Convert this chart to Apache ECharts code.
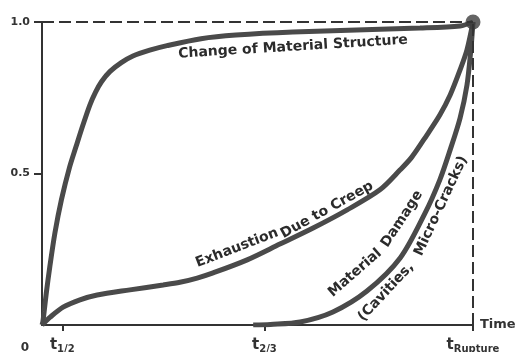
<!DOCTYPE html>
<html>
<head>
<meta charset="utf-8">
<title>Creep damage over time</title>
<script src="https://cdn.jsdelivr.net/npm/echarts@6/dist/echarts.min.js"></script>
<style>
    html, body { margin: 0; padding: 0; background: #fff; }
    #chart { width: 521px; height: 352px; }
</style>
</head>
<body>
<div id="chart"></div>
<script>
    // time is normalised: 0 .. tRupture = 1
    var xTickValues = [0.047, 0.516, 1];
    var xTickSubs = ['1/2', '2/3', 'Rupture'];
    var yTickValues = [0.5, 1.0];

    var structureCurve = [
        [0, 0], [0.002, 0.010], [0.005, 0.045], [0.010, 0.106], [0.018, 0.191],
        [0.030, 0.304], [0.045, 0.413], [0.064, 0.521], [0.079, 0.589], [0.095, 0.660],
        [0.111, 0.726], [0.124, 0.768], [0.138, 0.803], [0.158, 0.837], [0.184, 0.866],
        [0.211, 0.888], [0.250, 0.907], [0.290, 0.922], [0.369, 0.945], [0.450, 0.957],
        [0.582, 0.967], [0.877, 0.980], [0.970, 0.987], [1, 1]
    ];

    var exhaustionCurve = [
        [0, 0], [0.019, 0.026], [0.049, 0.059], [0.088, 0.083], [0.128, 0.099],
        [0.204, 0.116], [0.281, 0.132], [0.320, 0.141], [0.360, 0.155], [0.397, 0.172],
        [0.476, 0.215], [0.552, 0.267], [0.629, 0.320], [0.708, 0.380], [0.784, 0.446],
        [0.831, 0.512], [0.858, 0.554], [0.893, 0.627], [0.923, 0.693], [0.947, 0.759],
        [0.970, 0.842], [0.986, 0.908], [1, 1]
    ];

    var damageCurve = [
        [0.49, 0], [0.530, 0.002], [0.599, 0.010], [0.675, 0.043], [0.754, 0.112],
        [0.831, 0.221], [0.889, 0.370], [0.923, 0.479], [0.947, 0.578], [0.970, 0.683],
        [0.986, 0.792], [0.995, 0.908], [1, 1]
    ];

    var rupturePoint = [[1, 1]];

    var ink = '#333';
    var curveColor = '#4a4a4a';
    var labelFont = 'bold 14px "DejaVu Sans", sans-serif';

    function curveLabel(text, x, y, deg) {
        return {
            type: 'text',
            x: x,
            y: y,
            rotation: deg * Math.PI / 180,
            silent: true,
            style: {
                text: text,
                font: labelFont,
                fill: '#2b2b2b',
                align: 'center',
                verticalAlign: 'middle'
            }
        };
    }

    function curveSeries(name, data) {
        return {
            name: name,
            type: 'line',
            data: data,
            smooth: 0.3,
            symbol: 'none',
            silent: true,
            lineStyle: { color: curveColor, width: 5 },
            z: 3
        };
    }

    var chart = echarts.init(document.getElementById('chart'));

    var structure = curveSeries('Change of Material Structure', structureCurve);
    structure.markLine = {
        symbol: 'none',
        silent: true,
        label: { show: false },
        lineStyle: { color: ink, width: 2, type: [12, 5] },
        data: [{ yAxis: 1 }, { xAxis: 1 }]
    };

    chart.setOption({
        backgroundColor: '#fff',
        animation: false,
        grid: {
            left: 42,
            right: 48,
            top: 22,
            bottom: 27,
            containLabel: false,
            outerBoundsMode: 'none'
        },
        xAxis: {
            type: 'value',
            min: 0,
            max: 1,
            name: 'Time',
            nameLocation: 'end',
            nameGap: 7,
            nameTextStyle: {
                color: ink,
                fontSize: 13,
                fontWeight: 'bold',
                fontFamily: 'DejaVu Sans'
            },
            axisLine: { lineStyle: { color: ink, width: 2 } },
            axisTick: {
                customValues: xTickValues,
                length: 6,
                lineStyle: { color: ink, width: 2 }
            },
            axisLabel: {
                customValues: xTickValues,
                margin: 12,
                formatter: function (v) {
                    var i = xTickValues.indexOf(v);
                    return '{t|t}{s|' + xTickSubs[i] + '}';
                },
                rich: {
                    t: { fontSize: 15, fontWeight: 'bold', color: ink, fontFamily: 'DejaVu Sans' },
                    s: { fontSize: 10, fontWeight: 'bold', color: ink, fontFamily: 'DejaVu Sans', padding: [7, 0, 0, 0] }
                }
            },
            splitLine: { show: false }
        },
        yAxis: {
            type: 'value',
            min: 0,
            max: 1,
            axisLine: { show: true, lineStyle: { color: ink, width: 2 } },
            axisTick: {
                customValues: yTickValues,
                length: 8,
                lineStyle: { color: ink, width: 2 }
            },
            axisLabel: {
                customValues: yTickValues,
                margin: 12,
                color: ink,
                fontSize: 11,
                fontWeight: 'bold',
                fontFamily: 'DejaVu Sans',
                formatter: function (v) { return v.toFixed(1); }
            },
            splitLine: { show: false }
        },
        graphic: [
            {
                type: 'text',
                x: 25,
                y: 348,
                silent: true,
                style: { text: '0', font: 'bold 12px "DejaVu Sans"', fill: ink, align: 'center', verticalAlign: 'middle' }
            },
            curveLabel('Change of Material Structure', 293, 47, 3.5),
            curveLabel('Exhaustion', 237, 248, 21),
            curveLabel('Due to Creep', 327, 210, 29),
            curveLabel('Material', 355, 273, 41),
            curveLabel('Damage', 402, 219, 57),
            curveLabel('(Cavities,', 386, 292, 47),
            curveLabel('Micro-Cracks)', 441, 206, 65)
        ],
        series: [
            structure,
            curveSeries('Exhaustion Due to Creep', exhaustionCurve),
            curveSeries('Material Damage', damageCurve),
            {
                name: 'Rupture',
                type: 'scatter',
                data: rupturePoint,
                symbolSize: 15,
                silent: true,
                itemStyle: { color: '#3d3d3d' },
                z: 4
            }
        ]
    });
</script>
</body>
</html>
